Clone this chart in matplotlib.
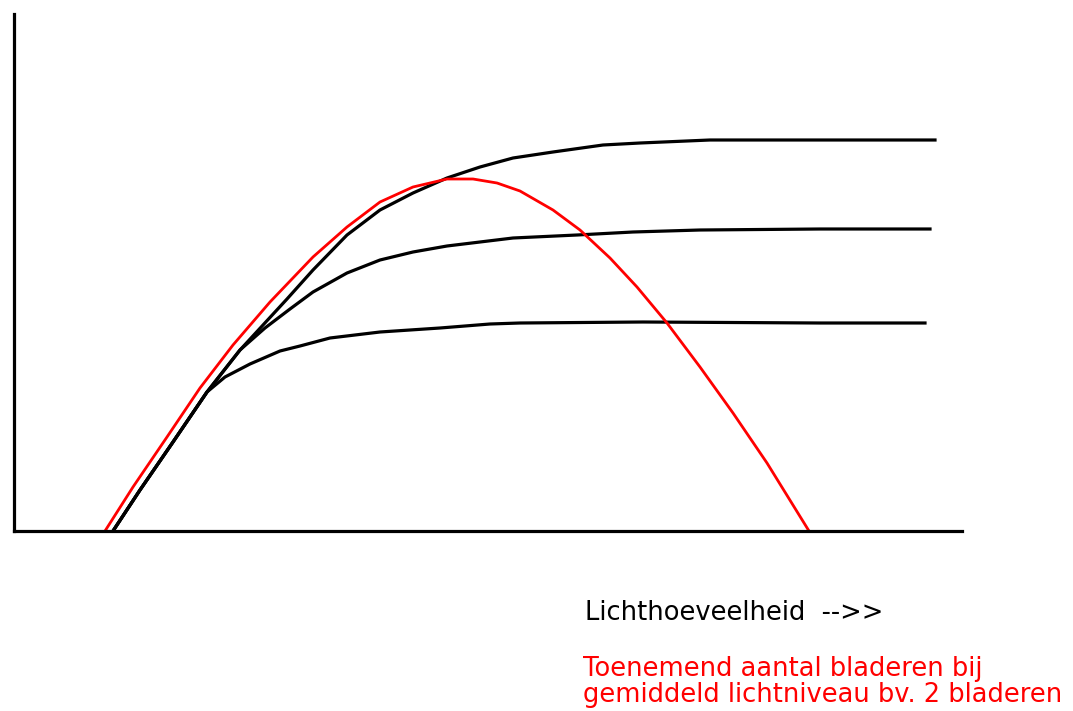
import matplotlib
matplotlib.use("Agg")
import matplotlib.pyplot as plt

# light amount (x) vs photosynthesis (y): three black saturation curves + red optimum curve
top_x = [9.9, 12.6, 15.9, 19.3, 22.6, 27.3, 29.9, 33.3, 36.6, 39.9, 43.3, 46.6, 49.9, 53.9, 58.9, 62.6, 69.6, 80.6, 92.1]
top_y = [0, 4.1, 8.9, 13.9, 18.1, 23.2, 26.1, 29.6, 32.1, 33.8, 35.3, 36.4, 37.3, 37.9, 38.6, 38.8, 39.1, 39.1, 39.1]

mid_x = [9.9, 12.6, 15.9, 19.3, 22.6, 25.1, 27.6, 29.9, 33.3, 36.6, 39.9, 43.3, 46.6, 49.9, 56.3, 61.9, 68.6, 80.6, 91.6]
mid_y = [0, 4.1, 8.9, 13.9, 18.1, 20.3, 22.2, 23.9, 25.8, 27.1, 27.9, 28.5, 28.9, 29.3, 29.6, 29.9, 30.1, 30.2, 30.2]

low_x = [9.9, 12.6, 15.9, 19.3, 21.1, 23.6, 26.6, 28.6, 31.6, 36.6, 42.6, 47.6, 50.6, 62.9, 80.6, 91.1]
low_y = [0, 4.1, 8.9, 13.9, 15.4, 16.7, 18.0, 18.5, 19.3, 19.9, 20.3, 20.7, 20.8, 20.9, 20.8, 20.8]

red_x = [9.1, 11.9, 15.3, 18.6, 21.9, 25.6, 29.9, 33.3, 36.6, 39.9, 43.3, 45.9, 48.3, 50.6, 53.9,
         56.6, 59.6, 62.3, 65.3, 68.6, 71.9, 75.3, 79.5]
red_y = [0, 4.4, 9.4, 14.3, 18.6, 22.9, 27.4, 30.4, 32.9, 34.4, 35.2, 35.2, 34.8, 34.0, 32.1,
         30.1, 27.3, 24.4, 20.8, 16.4, 11.8, 6.8, 0]

xlabel = "Lichthoeveelheid  -->>"
red_note = ["Toenemend aantal bladeren bij", "gemiddeld lichtniveau bv. 2 bladeren"]

plt.rcParams['font.family'] = ['DejaVu Sans']

fig = plt.figure(figsize=(10.73, 7.11), dpi=100)
ax = fig.add_axes([14/1073, 180/711, 948/1073, 517/711])

for xs, ys in [(top_x, top_y), (mid_x, mid_y), (low_x, low_y)]:
    ax.plot(xs, ys, color='black', lw=2.3, solid_joinstyle='round')
ax.plot(red_x, red_y, color='#ff0000', lw=2.0, solid_joinstyle='round')

ax.set_xlim(0, 94.8)
ax.set_ylim(0, 51.7)
ax.spines['top'].set_visible(False)
ax.spines['right'].set_visible(False)
ax.spines['left'].set_linewidth(2.3)
ax.spines['bottom'].set_linewidth(2.3)
ax.set_xticks([])
ax.set_yticks([])

fs = 18.5
fig.text(585/1073, (711-620)/711, xlabel, fontsize=fs, color='black', va='baseline')
fig.text(583/1073, (711-676)/711, red_note[0], fontsize=fs, color='#ff0000', va='baseline')
fig.text(583/1073, (711-702)/711, red_note[1], fontsize=fs, color='#ff0000', va='baseline')

fig.savefig("out.png", dpi=100)
